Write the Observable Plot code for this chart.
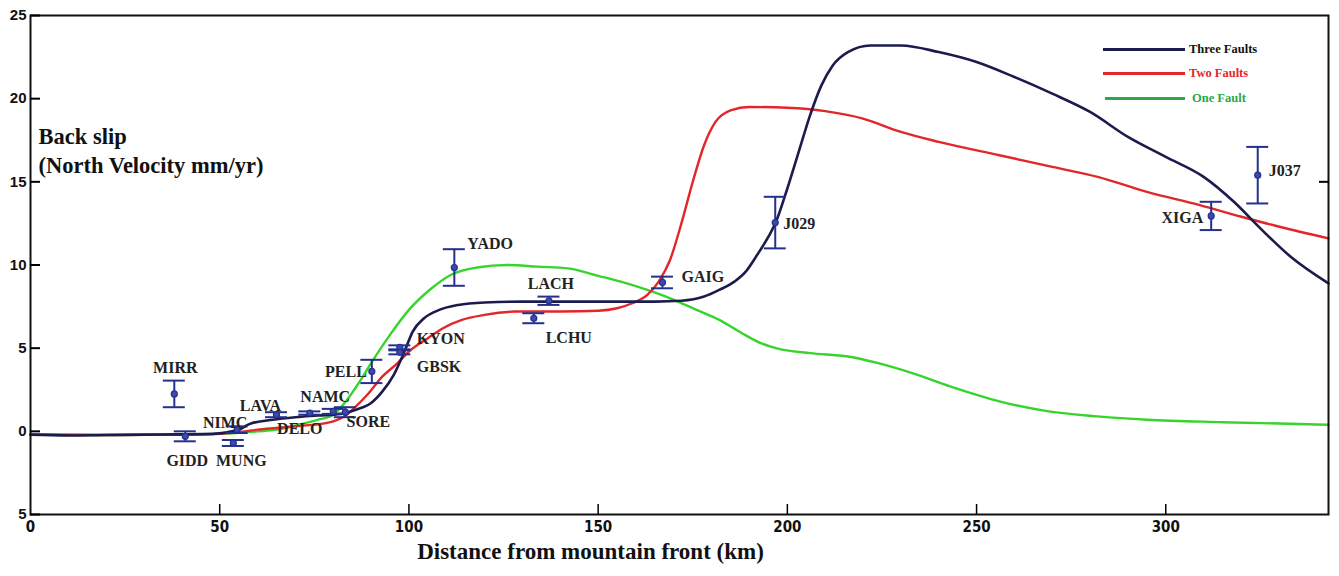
<!DOCTYPE html>
<html>
<head>
<meta charset="utf-8">
<script src="https://cdn.jsdelivr.net/npm/d3@7"></script>
<script src="https://cdn.jsdelivr.net/npm/@observablehq/plot@0.6"></script>
<style>
  body { margin: 0; background: #fff; }
  #wrap { position: relative; width: 1339px; height: 576px; }
  #legend { position: absolute; left: 1103px; top: 42px; font-family: "Liberation Serif", "Times New Roman", serif; font-weight: bold; font-size: 12.5px; }
  #legend .row { position: absolute; white-space: nowrap; height: 14px; display: flex; align-items: center; }
  #legend .ln { display: inline-block; width: 82px; height: 3px; margin-right: 4px; }
</style>
</head>
<body>
<div id="wrap">
  <div id="chart"></div>
  <div id="legend"></div>
</div>
<script>
// ---- Data ----
const seriesNames = ["Three Faults", "Two Faults", "One Fault"];

const threeFaults = [
  [0,-0.2],[10,-0.25],[20,-0.22],[30,-0.2],[40,-0.18],[48,-0.15],[52,-0.05],[55,0.1],[58,0.45],[64,0.7],
  [70,0.85],[76,0.95],[82,1.05],[86,1.3],[90,1.7],[93,2.4],[96,3.4],[99,4.9],[101,6.0],[104,6.8],
  [108,7.3],[113,7.6],[120,7.75],[130,7.8],[150,7.8],[165,7.8],[172,7.85],[178,8.1],[182,8.5],[186,9.0],
  [189,9.6],[192,10.6],[195,11.7],[197,12.6],[200,14.6],[203,16.8],[206,19.0],[209,20.8],[212,22.0],[216,22.8],
  [222,23.2],[230,23.2],[240,22.8],[250,22.2],[260,21.3],[270,20.3],[280,19.2],[290,17.7],[300,16.5],[310,15.3],
  [318,13.8],[325,12.2],[333,10.5],[343,8.9]
];

const twoFaults = [
  [0,-0.2],[20,-0.22],[40,-0.2],[50,-0.15],[55,-0.05],[60,0.1],[65,0.2],[70,0.3],[75,0.4],[80,0.6],
  [83,0.9],[86,1.5],[89,2.2],[93,3.3],[97,4.1],[100,4.8],[105,5.6],[109,6.2],[114,6.7],[120,7.0],
  [128,7.2],[140,7.2],[150,7.25],[155,7.4],[159,7.7],[163,8.2],[166,9.0],[169,10.3],[172,12.5],[175,15.0],
  [178,17.2],[181,18.6],[185,19.3],[190,19.5],[200,19.45],[210,19.25],[220,18.8],[230,18.0],[240,17.4],[256,16.6],
  [270,15.9],[282,15.3],[295,14.4],[309,13.6],[320,12.9],[330,12.3],[343,11.6]
];

const oneFault = [
  [0,-0.2],[20,-0.22],[40,-0.2],[50,-0.15],[60,0.0],[65,0.1],[70,0.35],[76,0.7],[80,1.0],[84,2.0],
  [87,3.0],[90,4.1],[95,5.8],[100,7.3],[106,8.6],[111,9.4],[118,9.85],[126,10.0],[134,9.9],[142,9.8],
  [150,9.35],[156,9.0],[163,8.5],[169,8.0],[176,7.3],[182,6.7],[188,5.9],[193,5.3],[197,5.0],[206,4.7],
  [216,4.5],[224,4.1],[233,3.5],[243,2.7],[256,1.8],[269,1.2],[282,0.9],[295,0.7],[315,0.55],[343,0.4]
];

const stationNames = ["MIRR","GIDD","NIMC","MUNG","LAVA","DELO","NAMC","SORE","PELL","KYON","GBSK","YADO","LACH","LCHU","GAIG","J029","XIGA","J037"];
const stationX     = [38,   40.9,  54.6,  53.6,  65,    73.8,  80,    83.2,  90.2,  97.6,  97.6,  112,   137,   133,   167,   196.8, 312,   324.3];
const stationY     = [2.25, -0.3,  0.1,   -0.7,  1.0,   1.1,   1.2,   1.15,  3.6,   5.05,  4.75,  9.85,  7.85,  6.8,   8.95,  12.55, 12.95, 15.4];
const stationErr   = [0.8,  0.3,   0.2,   0.18,  0.15,  0.1,   0.15,  0.3,   0.7,   0.12,  0.12,  1.1,   0.25,  0.3,   0.35,  1.55,  0.85,  1.7];

const xTicks = [0, 50, 100, 150, 200, 250, 300];
const yTicks = [-5, 0, 5, 10, 15, 20, 25];

// ---- Styling / layout (not data) ----
const colors = {"Three Faults": "#1b1b4d", "Two Faults": "#e3262a", "One Fault": "#36d42c"};
const legendTextColors = {"Three Faults": "#111", "Two Faults": "#e3262a", "One Fault": "#2aa84a"};
const legendLineColors = {"Three Faults": "#1b1b4d", "Two Faults": "#e3262a", "One Fault": "#2aa84a"};
const barColor = "#24308c";
const labelLayout = {
  MIRR: {dx: 1, dy: -26, anchor: "middle"},
  GIDD: {dx: 2, dy: 25, anchor: "middle"},
  NIMC: {dx: -12, dy: -7, anchor: "middle"},
  MUNG: {dx: 8, dy: 18, anchor: "middle"},
  LAVA: {dx: -16, dy: -9, anchor: "middle"},
  DELO: {dx: -10, dy: 16, anchor: "middle"},
  NAMC: {dx: -8, dy: -14, anchor: "middle"},
  SORE: {dx: 23, dy: 10, anchor: "middle"},
  PELL: {dx: -5, dy: 0, anchor: "end"},
  KYON: {dx: 17, dy: -8, anchor: "start"},
  GBSK: {dx: 17, dy: 15, anchor: "start"},
  YADO: {dx: 13, dy: -24, anchor: "start"},
  LACH: {dx: 2, dy: -17, anchor: "middle"},
  LCHU: {dx: 35, dy: 20, anchor: "middle"},
  GAIG: {dx: 19, dy: -6, anchor: "start"},
  J029: {dx: 8, dy: 1, anchor: "start"},
  XIGA: {dx: -8, dy: 2, anchor: "end"},
  J037: {dx: 11, dy: -4, anchor: "start"}
};

// ---- Build tables ----
const curves = [
  ...threeFaults.map(([x, y]) => ({series: "Three Faults", x, y})),
  ...twoFaults.map(([x, y]) => ({series: "Two Faults", x, y})),
  ...oneFault.map(([x, y]) => ({series: "One Fault", x, y}))
];
const stations = stationNames.map((name, i) => ({name, x: stationX[i], y: stationY[i], e: stationErr[i]}));

const serif = "'Liberation Serif', 'Times New Roman', serif";
const sans = "'Liberation Sans', Arial, sans-serif";
const narrow = "'Liberation Sans Narrow', 'DejaVu Sans Condensed', 'Liberation Sans', sans-serif";

const labelMarks = stationNames.map(n => {
  const L = labelLayout[n];
  return Plot.text(stations.filter(d => d.name === n), {
    x: "x", y: "y", text: "name", dx: L.dx, dy: L.dy, textAnchor: L.anchor,
    fontFamily: serif, fontWeight: "bold", fontSize: 16, fill: "#222"
  });
});

const chart = Plot.plot({
  width: 1339,
  height: 576,
  marginLeft: 30,
  marginRight: 11,
  marginTop: 15,
  marginBottom: 62,
  style: {background: "#fff", overflow: "visible"},
  x: {domain: [0, 343], label: null},
  y: {domain: [-5, 25], label: null},
  marks: [
    // curves
    Plot.line(curves.filter(d => d.series === "One Fault"), {x: "x", y: "y", stroke: colors["One Fault"], strokeWidth: 2.4, curve: "monotone-x"}),
    Plot.line(curves.filter(d => d.series === "Two Faults"), {x: "x", y: "y", stroke: colors["Two Faults"], strokeWidth: 2.4, curve: "monotone-x"}),
    Plot.line(curves.filter(d => d.series === "Three Faults"), {x: "x", y: "y", stroke: colors["Three Faults"], strokeWidth: 2.6, curve: "monotone-x"}),
    // error bars
    Plot.ruleX(stations, {x: "x", y1: d => d.y - d.e, y2: d => d.y + d.e, stroke: barColor, strokeWidth: 2}),
    Plot.ruleY(stations, {y: d => d.y + d.e, x1: "x", x2: "x", insetLeft: -11, insetRight: -11, stroke: barColor, strokeWidth: 2}),
    Plot.ruleY(stations, {y: d => d.y - d.e, x1: "x", x2: "x", insetLeft: -11, insetRight: -11, stroke: barColor, strokeWidth: 2}),
    Plot.dot(stations, {x: "x", y: "y", r: 3, stroke: barColor, fill: "#3a4ab0", strokeWidth: 1.2}),
    ...labelMarks,
    // frame + axes
    Plot.frame({stroke: "#111", strokeWidth: 2}),
    Plot.axisY({anchor: "left", ticks: yTicks, tickSize: 10, dx: 10, tickFormat: () => "", strokeWidth: 2, label: null}),
    Plot.axisY({anchor: "left", ticks: yTicks, tickSize: 0, tickPadding: 4, tickFormat: d => String(Math.abs(d)),
      fontFamily: sans, fontWeight: "bold", fontSize: 15, fill: "#111", label: null}),
    Plot.axisY({anchor: "right", ticks: [15], tickSize: 10, dx: -10, tickFormat: () => "", strokeWidth: 2, label: null}),
    Plot.axisX({anchor: "bottom", ticks: xTicks.filter(d => d > 0), tickSize: 10, dy: -10, tickFormat: () => "", strokeWidth: 1.5, label: null}),
    Plot.axisX({anchor: "bottom", ticks: xTicks, tickSize: 0, tickPadding: 7, fontFamily: narrow, fontWeight: "bold", fontSize: 15, fill: "#111", label: null}),
    // titles
    Plot.text(["Distance from mountain front (km)"], {frameAnchor: "bottom", dx: -89, dy: 44, fontFamily: serif, fontWeight: "bold", fontSize: 23, fill: "#111"}),
    Plot.text(["Back slip"], {frameAnchor: "top-left", dx: 8, dy: 113, textAnchor: "start", fontFamily: serif, fontWeight: "bold", fontSize: 22.5, fill: "#111"}),
    Plot.text(["(North Velocity mm/yr)"], {frameAnchor: "top-left", dx: 8, dy: 142, textAnchor: "start", fontFamily: serif, fontWeight: "bold", fontSize: 22.5, fill: "#111"})
  ]
});
document.getElementById("chart").appendChild(chart);

// legend overlay
const legend = document.getElementById("legend");
const legendTops = [0, 24, 49];
seriesNames.forEach((s, i) => {
  const row = document.createElement("div");
  row.className = "row";
  row.style.top = legendTops[i] + "px";
  row.style.left = (s === "One Fault" ? 2 : 0) + "px";
  const ln = document.createElement("span");
  ln.className = "ln";
  ln.style.background = legendLineColors[s];
  ln.style.width = (s === "One Fault" ? 80 : 82) + "px";
  const tx = document.createElement("span");
  tx.textContent = s;
  tx.style.color = legendTextColors[s];
  if (s === "One Fault") tx.style.marginLeft = "3px";
  row.appendChild(ln);
  row.appendChild(tx);
  legend.appendChild(row);
});
</script>
</body>
</html>
